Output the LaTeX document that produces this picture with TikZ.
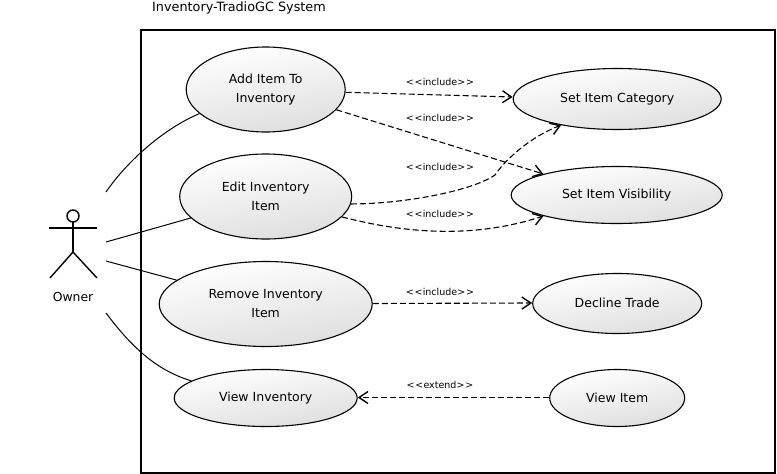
\documentclass[tikz,border=0pt]{standalone}
\usepackage{fontspec}
\setmainfont{DejaVu Sans}
\usetikzlibrary{shapes.geometric,arrows.meta}
\tikzset{
  usecase/.style={ellipse,draw=black,line width=1.1pt,inner sep=0pt,align=center,font=\fontsize{12.5}{19}\selectfont,
    shading=axis,top color=white,bottom color=black!13,shading angle=10},
  assoc/.style={draw=black,line width=1pt},
  dep/.style={draw=black,line width=1.1pt,dash pattern=on 6pt off 3pt,-{Straight Barb[length=9pt,width=12pt,line width=1.4pt]}},
  stereo/.style={font=\fontsize{9.5}{11}\selectfont,inner sep=0pt},
  actorline/.style={draw=black,line width=1.4pt},
}
\newcommand{\ltlt}{<\kern0.8pt<\kern0.2pt}
\newcommand{\gtgt}{\kern0.2pt>\kern0.8pt>}
\begin{document}
\begin{tikzpicture}[x=1pt,y=-1pt]
\useasboundingbox (0,0) rectangle (777,474);
\fill[white] (0,0) rectangle (777,474);
\node[inner sep=0pt,anchor=west,font=\fontsize{12.8}{14}\selectfont] (title) at (152,8) {Inventory-TradioGC System};
\node[draw=black,line width=2pt,minimum width=634pt,minimum height=443pt,inner sep=0pt,anchor=north west] (sys) at (139.6,28.6) {};
\node[usecase,minimum width=159pt,minimum height=85pt] (add) at (265.7,89.5) {Add Item To\\Inventory};
\node[usecase,minimum width=172pt,minimum height=85pt] (edit) at (265.7,196.5) {Edit Inventory\\Item};
\node[usecase,minimum width=213pt,minimum height=85pt] (remove) at (265.7,304) {Remove Inventory\\Item};
\node[usecase,minimum width=183pt,minimum height=57pt] (view) at (265.7,398) {View Inventory};
\node[usecase,minimum width=208pt,minimum height=61pt] (cat) at (617.2,99) {Set Item Category};
\node[usecase,minimum width=211pt,minimum height=57pt] (vis) at (616.7,195) {Set Item Visibility};
\node[usecase,minimum width=169pt,minimum height=60pt] (decl) at (617.2,303.5) {\raisebox{1pt}{Decline Trade}};
\node[usecase,minimum width=135pt,minimum height=57pt] (item) at (617.2,398) {\raisebox{1pt}{View Item}};
% actor
\coordinate (head) at (73,216);
\draw[actorline] (head) circle (6pt);
\draw[actorline] (73,222) -- (73,252);
\draw[actorline] (49,228) -- (97,228);
\draw[actorline] (50,278) -- (73,252) -- (97,278);
\node[inner sep=0pt,font=\fontsize{12.4}{14}\selectfont] (owner) at (73,297) {Owner};
\coordinate (o1) at (106,192);
\coordinate (o2) at (106,242);
\coordinate (o3) at (106,261);
\coordinate (o4) at (106,313);
% associations
\draw[assoc] (o1) .. controls (128,160) and (165,128) .. (add.200);
\draw[assoc] (o2) -- (edit.196);
\draw[assoc] (o3) -- (remove.165);
\draw[assoc] (o4) .. controls (130,345) and (155,370) .. (view.167);
% dependencies
\draw[dep] (add.-2) -- ([yshift=2pt]cat.west);
\draw[dep] (add.-16) -- (vis.164);
\draw[dep] (edit.-5) .. controls (400,204) and (470,192) .. (495,175) .. controls (505,160) and (530,137) .. (cat.205);
\draw[dep] (edit.-15) .. controls (400,232) and (470,240) .. (vis.196);
\draw[dep] ([yshift=0.5pt]remove.east) -- ([yshift=0.5pt]decl.west);
\draw[dep] ([yshift=0.5pt]item.west) -- ([yshift=0.5pt]view.east);
% labels
\node[stereo] (l1) at (440,82) {\ltlt include\gtgt};
\node[stereo] (l2) at (440,118) {\ltlt include\gtgt};
\node[stereo] (l3) at (440,167) {\ltlt include\gtgt};
\node[stereo] (l4) at (440,214) {\ltlt include\gtgt};
\node[stereo] (l5) at (440,292) {\ltlt include\gtgt};
\node[stereo] (l6) at (440,385) {\ltlt extend\gtgt};
\end{tikzpicture}
\end{document}
